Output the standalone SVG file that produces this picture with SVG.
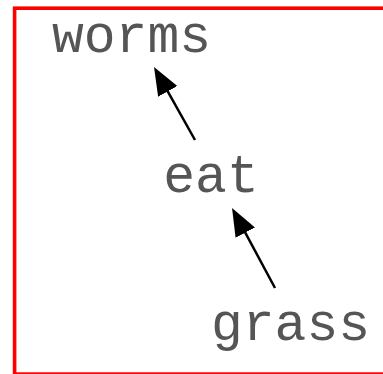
<svg xmlns="http://www.w3.org/2000/svg" width="383" height="374" viewBox="0 0 383 374">
<style>
.lbl{font-family:"Liberation Mono","Courier New",monospace;font-size:53px;fill:#555555}
.edge{stroke:#000;stroke-width:2.5;fill:none}
</style>
<defs>
<marker id="ah" markerUnits="userSpaceOnUse" viewBox="0 0 28 22" refX="8" refY="11" markerWidth="28" markerHeight="22" orient="auto">
<path d="M0,0 L28,11 L0,22 z" fill="#000"/>
</marker>
</defs>
<rect x="14.6" y="8.2" width="420" height="365.9" fill="#fff" stroke="#ff0000" stroke-width="3.6"/>
<g id="connectors">
<line class="edge" x1="195" y1="140" x2="163.8" y2="84.4" marker-end="url(#ah)"/>
<line class="edge" x1="275" y1="288" x2="241.5" y2="225.6" marker-end="url(#ah)"/>
</g>
<g id="worms"><text class="lbl" x="131.5" y="52" text-anchor="middle">worms</text></g>
<g id="eat"><text class="lbl" x="211" y="192" text-anchor="middle">eat</text></g>
<g id="grass"><text class="lbl" x="290.5" y="340" text-anchor="middle">grass</text></g>
</svg>
